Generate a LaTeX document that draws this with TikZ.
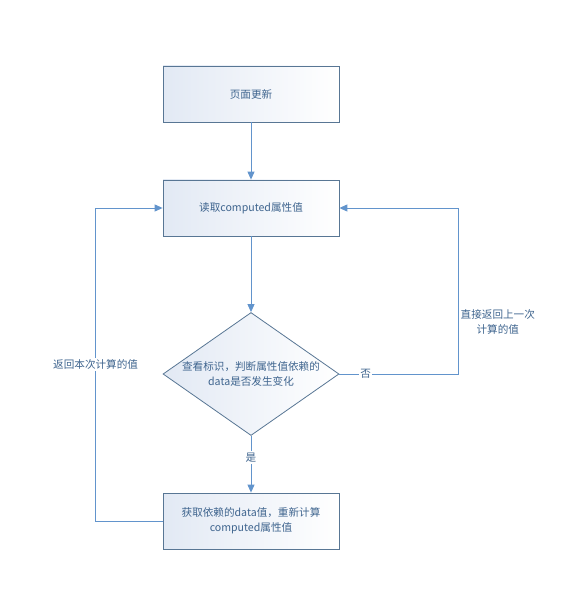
\documentclass[tikz,border=0pt]{standalone}
\usepackage{fontspec}
\setmainfont{Noto Sans CJK SC}
\usetikzlibrary{positioning, arrows.meta, calc, shapes.geometric}
\definecolor{flowline}{RGB}{98,148,204}
\definecolor{boxedge}{RGB}{88,118,148}
\definecolor{flowtext}{RGB}{62,100,142}
\definecolor{boxfill}{RGB}{226,233,244}

\begin{document}
\begin{tikzpicture}[x=1pt, y=-1pt,
    procbox/.style={draw=boxedge, line width=0.8pt, left color=boxfill, right color=white,
        minimum width=176pt, minimum height=56pt, inner sep=2pt,
        text=flowtext, font=\fontsize{10.6}{15}\selectfont, align=center},
    decision/.style={diamond, draw=boxedge, line width=0.8pt, left color=boxfill, right color=white,
        minimum width=176pt, minimum height=123pt, inner sep=0pt},
    flow/.style={draw=flowline, line width=0.9pt, -{Triangle[length=8pt, width=7pt]}},
    flowlabel/.style={text=flowtext, font=\fontsize{10.6}{15}\selectfont, align=center, inner sep=1.5pt}]
    \useasboundingbox (0,0) rectangle (586,593);
    % --- steps ---
    \node[procbox] (update) at (251,94) {页面更新};
    \node[procbox] (read) at (251,208) {读取computed属性值};
    \node[decision] (check) at (251,374) {};
    \node[flowlabel] (checktext) at (check) {查看标识，判断属性值依赖的\\data是否发生变化};
    \node[procbox] (recompute) at (251,521) {获取依赖的data值，重新计算\\computed属性值};
    % --- straight flow ---
    \draw[flow] (update) -- (read);
    \draw[flow] (read) -- (check);
    \draw[flow] (check) -- node[flowlabel, fill=white, pos=0.38] (yes) {是} (recompute);
    % --- loops back ---
    \draw[flow] (check.east) -- node[flowlabel, fill=white, pos=0.22] (no) {否} ($(check.east)+(119,0)$)
        |- (read.east);
    \node[flowlabel, anchor=west] (cached) at (459,322) {直接返回上一次\\计算的值};
    \draw[flow] (recompute.west) -- ++(-67,0) |- node[flowlabel, fill=white, pos=0.25] (fresh) {返回本次计算的值} (read.west);
\end{tikzpicture}
\end{document}
